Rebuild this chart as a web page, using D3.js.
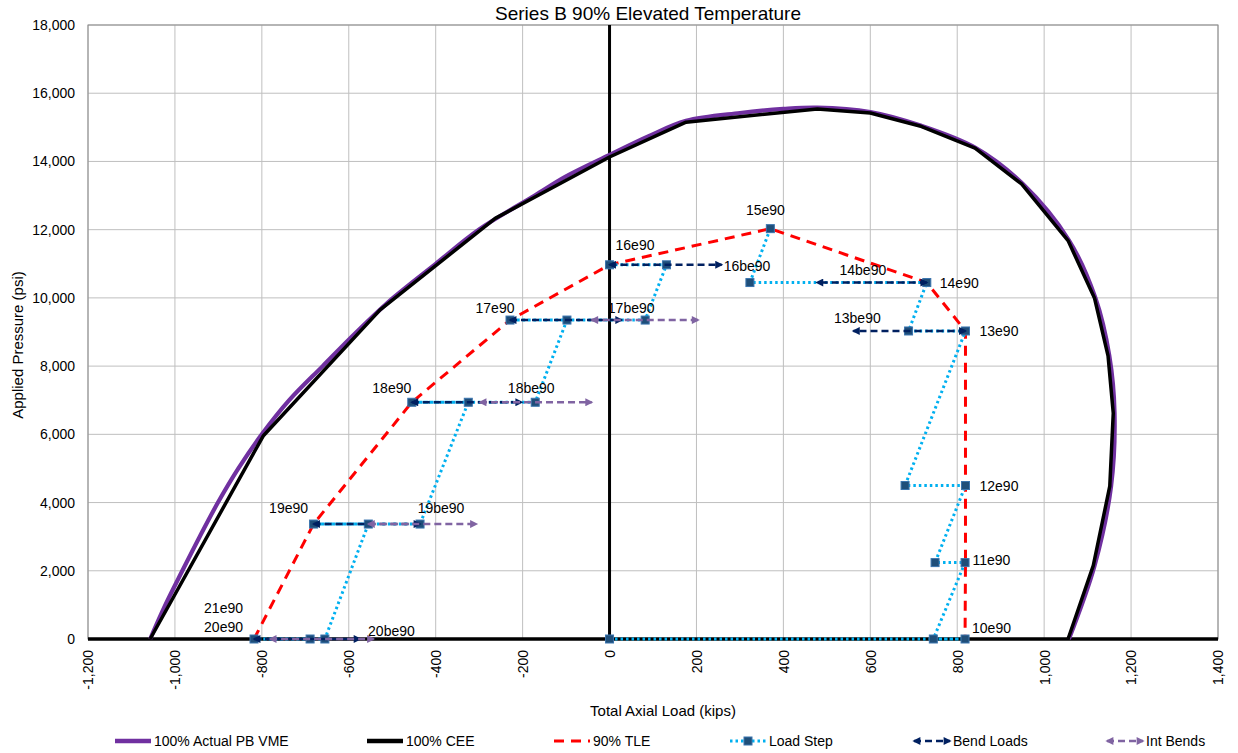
<!DOCTYPE html>
<html><head><meta charset="utf-8">
<script src="https://cdn.jsdelivr.net/npm/d3@7"></script>
<style>
body{margin:0;background:#fff;}
text{font-family:"Liberation Sans",Arial,sans-serif;fill:#000;}
</style>
</head><body>
<svg id="chart" width="1238" height="753"></svg>
<script>
// ---------------- DATA ----------------
const chartTitle = "Series B 90% Elevated Temperature";
const xAxisTitle = "Total Axial Load (kips)";
const yAxisTitle = "Applied Pressure (psi)";
const xTicks = [-1200,-1000,-800,-600,-400,-200,0,200,400,600,800,1000,1200,1400];
const yTicks = [0,2000,4000,6000,8000,10000,12000,14000,16000,18000];
const seriesNames = ["100% Actual PB VME","100% CEE","90% TLE","Load Step","Bend Loads","Int Bends"];

// 100% Actual PB VME envelope [axial load kips, pressure psi]
const vmePoints = [[-1057,0],[-1022,1000],[-983,2000],[-943,3000],[-901,4000],[-854,5000],[-800,6000],
  [-737,7000],[-660,8000],[-582,9000],[-498,10000],[-400,11000],[-301,12000],[-172,13000],[-100,13560],
  [0,14190],[90,14740],[176,15190],[300,15420],[400,15540],[478,15580],[600,15450],[714,15060],
  [842,14400],[950,13350],[1057,11690],[1118,9995],[1150,8300],[1162,6620],[1154,4480],[1116,2150],[1057,0]];
// 100% CEE envelope
const ceePoints = [[-1057,0],[-797,5950],[-528,9650],[-263,12330],[0,14130],[176,15150],[478,15540],
  [600,15420],[714,15040],[841,14390],[948,13340],[1055,11680],[1116,9990],[1147,8300],[1159,6620],
  [1151,4480],[1113,2150],[1055,0]];
// 90% TLE
const tlePoints = [[-818,0],[-681,3370],[-455,6940],[-229,9350],[0,10970],[370,12030],[730,10450],
  [819,9030],[819,4500],[819,2240],[818,0]];
// Load Step path (two separate runs)
const loadStepRun1 = [[0,0],[818,0],[745,0],[818,2240],[749,2240],[819,4500],[680,4500],[819,9030],
  [688,9030],[730,10450],[323,10450],[370,12030]];
const loadStepRun2 = [[0,10970],[131,10970],[82,9350],[-229,9350],[-98,9350],[-171,6940],[-455,6940],
  [-325,6940],[-436,3370],[-681,3370],[-555,3370],[-655,0],[-818,0],[-689,0]];
// Bend Loads (each pair is one double-arrow segment)
const bendLoads = [[[730,10450],[477,10450]],[[819,9030],[561,9030]],[[0,10970],[258,10970]],
  [[-229,9350],[28,9350]],[[-455,6940],[-202,6940]],[[-681,3370],[-436,3370]],[[-818,0],[-574,0]]];
// Int Bends
const intBends = [[[-41,9350],[204,9350]],[[-298,6940],[-41,6940]],[[-555,3370],[-306,3370]],[[-781,0],[-543,0]]];
// Point labels [text, load, pressure]
const pointLabels = [["10e90",818,0],["11e90",819,2240],["12e90",819,4500],["13e90",819,9030],
  ["14e90",730,10450],["15e90",370,12030],["16e90",0,10970],["16be90",258,10970],["14be90",599,10450],
  ["13be90",561,9030],["17e90",-229,9350],["17be90",82,9350],["18e90",-455,6940],["18be90",-171,6940],
  ["19e90",-681,3370],["19be90",-436,3370],["21e90",-818,0],["20e90",-818,0],["20be90",-574,0]];

// ---------------- LAYOUT / STYLE ----------------
const labelPlacement = {
  "10e90":[7,-11,"start"],"11e90":[7,-3,"start"],"12e90":[14,0,"start"],"13e90":[14,0,"start"],
  "14e90":[13,0,"start"],"15e90":[-5,-19,"middle"],"16e90":[6,-20,"start"],"16be90":[2,1,"start"],
  "14be90":[-7,-13,"middle"],"13be90":[4,-13,"middle"],"17e90":[-15,-12,"middle"],"17be90":[-14,-12,"middle"],
  "18e90":[-20,-14,"middle"],"18be90":[-4,-14,"middle"],"19e90":[-25,-16,"middle"],"19be90":[21,-16,"middle"],
  "21e90":[-11,-31,"end"],"20e90":[-11,-12,"end"],"20be90":[8,-8,"start"]
};
const plot = {left:88, right:1218, top:25, bottom:639};
const C = {vme:"#7030A0", cee:"#000000", tle:"#FF0000", step:"#00B0F0", marker:"#1F4E79",
           bend:"#002060", intb:"#8064A2", grid:"#BFBFBF", border:"#8C8C8C"};

const svg = d3.select("#chart");
const x = d3.scaleLinear().domain([xTicks[0], xTicks[xTicks.length-1]]).range([plot.left, plot.right]);
const y = d3.scaleLinear().domain([yTicks[0], yTicks[yTicks.length-1]]).range([plot.bottom, plot.top]);
const fmt = v => d3.format(",")(v).replace("\u2212","-");

// arrow markers
const defs = svg.append("defs");
function arrow(id, color){
  defs.append("marker").attr("id",id).attr("viewBox","0 0 10 10").attr("refX",8).attr("refY",5)
    .attr("markerWidth",9).attr("markerHeight",8).attr("markerUnits","userSpaceOnUse")
    .attr("orient","auto-start-reverse")
    .append("path").attr("d","M0,0L10,5L0,10z").attr("fill",color);
}
arrow("arBend", C.bend); arrow("arInt", C.intb);

// grid
const g = svg.append("g");
g.selectAll(".vg").data(xTicks).join("line")
  .attr("x1",d=>x(d)).attr("x2",d=>x(d)).attr("y1",plot.top).attr("y2",plot.bottom)
  .attr("stroke",C.grid).attr("stroke-width",1);
g.selectAll(".hg").data(yTicks).join("line")
  .attr("x1",plot.left).attr("x2",plot.right).attr("y1",d=>y(d)).attr("y2",d=>y(d))
  .attr("stroke",C.grid).attr("stroke-width",1);
g.append("rect").attr("x",plot.left).attr("y",plot.top).attr("width",plot.right-plot.left)
  .attr("height",plot.bottom-plot.top).attr("fill","none").attr("stroke",C.border).attr("stroke-width",1);

// axes (tick labels via d3 axes)
const yAxis = d3.axisLeft(y).tickValues(yTicks).tickSize(0).tickPadding(13).tickFormat(fmt);
svg.append("g").attr("transform",`translate(${plot.left},0)`).call(yAxis)
  .call(s=>s.select(".domain").remove())
  .selectAll("text").style("font-size","14px").attr("font-family","Liberation Sans, Arial, sans-serif");
const xAxis = d3.axisBottom(x).tickValues(xTicks).tickSize(0).tickFormat(fmt);
svg.append("g").attr("transform",`translate(0,${plot.bottom})`).call(xAxis)
  .call(s=>s.select(".domain").remove())
  .selectAll("text").style("font-size","14px").attr("font-family","Liberation Sans, Arial, sans-serif")
  .attr("transform","rotate(-90)").attr("text-anchor","end").attr("dy","0.35em").attr("x",-11).attr("y",0);

// axis lines at zero
svg.append("line").attr("x1",x(0)).attr("x2",x(0)).attr("y1",plot.top).attr("y2",plot.bottom)
  .attr("stroke","#000").attr("stroke-width",3);
svg.append("line").attr("x1",plot.left).attr("x2",plot.right).attr("y1",y(0)).attr("y2",y(0))
  .attr("stroke","#000").attr("stroke-width",3.5);

const line = d3.line().x(d=>x(d[0])).y(d=>y(d[1]));
const vmeLine = d3.line().x(d=>x(d[0])).y(d=>y(d[1])).curve(d3.curveCatmullRom.alpha(0.5));

// series
svg.append("path").attr("d",vmeLine(vmePoints)).attr("fill","none").attr("stroke",C.vme).attr("stroke-width",4.2);
svg.append("path").attr("d",line(ceePoints)).attr("fill","none").attr("stroke",C.cee).attr("stroke-width",3.5)
  .attr("stroke-linejoin","round");
svg.append("path").attr("d",line(tlePoints)).attr("fill","none").attr("stroke",C.tle).attr("stroke-width",3)
  .attr("stroke-dasharray","10 7");
[loadStepRun1, loadStepRun2].forEach(run=>{
  svg.append("path").attr("d",line(run)).attr("fill","none").attr("stroke",C.step).attr("stroke-width",3)
    .attr("stroke-dasharray","2.5 3");
});
const allSteps = loadStepRun1.concat(loadStepRun2);
svg.append("g").selectAll("rect").data(allSteps).join("rect")
  .attr("x",d=>x(d[0])-4).attr("y",d=>y(d[1])-4).attr("width",8).attr("height",8)
  .attr("fill",C.marker).attr("stroke","#3A74AE").attr("stroke-width",1);
bendLoads.forEach(seg=>{
  svg.append("path").attr("d",line(seg)).attr("fill","none").attr("stroke",C.bend).attr("stroke-width",2.5)
    .attr("stroke-dasharray","7 4").attr("marker-start","url(#arBend)").attr("marker-end","url(#arBend)");
});
intBends.forEach(seg=>{
  svg.append("path").attr("d",line(seg)).attr("fill","none").attr("stroke",C.intb).attr("stroke-width",2.5)
    .attr("stroke-dasharray","7 4").attr("marker-start","url(#arInt)").attr("marker-end","url(#arInt)");
});

// point labels
svg.append("g").selectAll("text").data(pointLabels).join("text")
  .attr("x",d=>x(d[1])+labelPlacement[d[0]][0]).attr("y",d=>y(d[2])+labelPlacement[d[0]][1])
  .attr("text-anchor",d=>labelPlacement[d[0]][2]).attr("dominant-baseline","central")
  .style("font-size","14px").text(d=>d[0]);

// titles
svg.append("text").attr("x",648).attr("y",20).attr("text-anchor","middle").style("font-size","19px").text(chartTitle);
svg.append("text").attr("x",663).attr("y",716).attr("text-anchor","middle").style("font-size","15px").text(xAxisTitle);
svg.append("text").attr("transform","translate(23,345) rotate(-90)").attr("text-anchor","middle")
  .style("font-size","15px").text(yAxisTitle);

// legend
const legY = 741;
const legX = [115, 367, 554, 730, 914, 1107];
const leg = svg.append("g");
seriesNames.forEach((name,i)=>{
  const x0 = legX[i], x1 = x0 + 36;
  const l = leg.append("line").attr("x1",x0).attr("x2",x1).attr("y1",legY).attr("y2",legY).attr("fill","none");
  if(i===0) l.attr("stroke",C.vme).attr("stroke-width",4.5);
  if(i===1) l.attr("stroke",C.cee).attr("stroke-width",4.5);
  if(i===2) l.attr("stroke",C.tle).attr("stroke-width",3).attr("stroke-dasharray","10 7");
  if(i===3){ l.attr("stroke",C.step).attr("stroke-width",3).attr("stroke-dasharray","2.5 3");
    leg.append("rect").attr("x",(x0+x1)/2-4).attr("y",legY-4).attr("width",8).attr("height",8)
      .attr("fill",C.marker).attr("stroke","#3A74AE"); }
  if(i===4) l.attr("stroke",C.bend).attr("stroke-width",2.5).attr("stroke-dasharray","7 4")
      .attr("marker-start","url(#arBend)").attr("marker-end","url(#arBend)");
  if(i===5) l.attr("stroke",C.intb).attr("stroke-width",2.5).attr("stroke-dasharray","7 4")
      .attr("marker-start","url(#arInt)").attr("marker-end","url(#arInt)");
  leg.append("text").attr("x",x1+3).attr("y",legY).attr("dominant-baseline","central")
    .style("font-size","14px").text(name);
});
</script>
</body></html>
